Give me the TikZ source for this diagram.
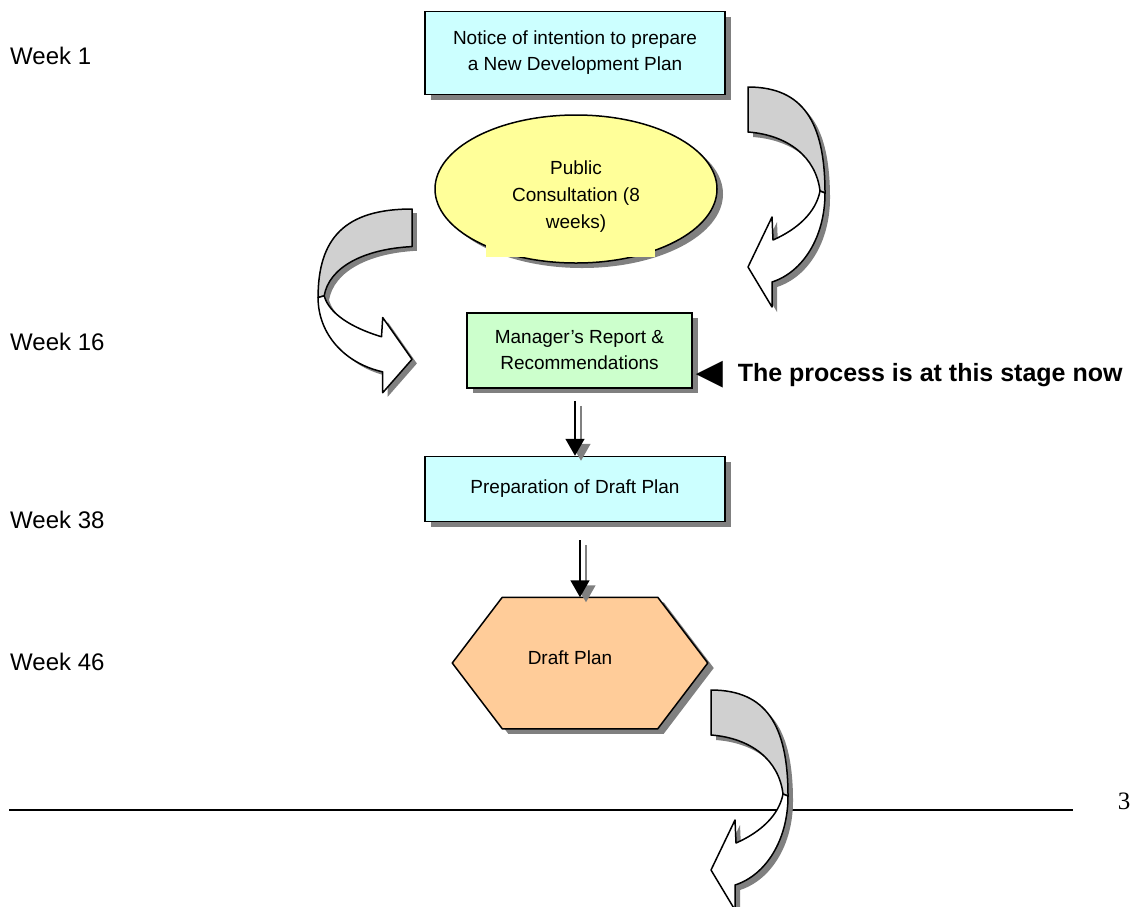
\documentclass[tikz,border=0pt]{standalone}
\usepackage{fontspec}
\setmainfont{Liberation Sans}
\newfontfamily\serifnum{Liberation Serif}
\usepackage{tikz}
\usetikzlibrary{positioning, arrows.meta, shapes.geometric, calc, shadows, backgrounds}
\definecolor{boxcyan}{RGB}{204, 255, 255}
\definecolor{boxgreen}{RGB}{204, 255, 204}
\definecolor{boxyellow}{RGB}{255, 255, 153}
\definecolor{boxpeach}{RGB}{255, 204, 153}
\definecolor{bandgray}{RGB}{208, 208, 208}
\definecolor{shadowgray}{RGB}{128, 128, 128}

\tikzset{
  stage/.style={draw=black, line width=1.5pt, font=\fontsize{19}{26}\selectfont,
                align=center, inner sep=0pt},
  castshadow/.style={drop shadow={shadow xshift=6pt, shadow yshift=-5pt,
                     fill=shadowgray, opacity=1}},
  weeklabel/.style={anchor=west, inner sep=0pt, font=\fontsize{24}{28}\selectfont},
  flowarrow/.style={-{Triangle[width=19pt, length=17pt]}, line width=1.5pt},
  bendarrow/.pic={
    % shadow of the whole band
    \fill[shadowgray, shift={(#1,5)}] (0,0) .. controls (55,0) and (77,35) .. (77,106)
      .. controls (77,150) and (55,185) .. (24,195) -- (24,220) -- (0,180) -- (24,130)
      -- (25,153) .. controls (50,142) and (68,125) .. (72,104)
      .. controls (68,70) and (40,48) .. (0,45) -- cycle;
    % grey back of the band
    \draw[fill=bandgray, line width=1.5pt, line join=round] (0,0)
      .. controls (55,0) and (77,35) .. (77,106) -- (72,104)
      .. controls (68,70) and (40,48) .. (0,45) -- cycle;
    % white front with the head
    \draw[fill=white, line width=1.5pt, line join=round] (77,106)
      .. controls (77,150) and (55,185) .. (24,195) -- (24,220) -- (0,180) -- (24,130)
      -- (25,153) .. controls (50,142) and (68,125) .. (72,104) -- cycle;
  }
}

\begin{document}
\begin{tikzpicture}[x=1pt, y=-1pt, >=Stealth]
  \useasboundingbox (0,0) rectangle (1139,906);
  % week column
  \node[weeklabel] (wk1) at (10,56) {Week 1};
  \node[weeklabel] (wk16) at (10,342) {Week 16};
  \node[weeklabel] (wk38) at (10,520) {Week 38};
  \node[weeklabel] (wk46) at (10,662) {Week 46};
  % stages
  \node[stage, fill=boxcyan, minimum width=300pt, minimum height=83pt, castshadow]
    (notice) at (575,53) {Notice of intention to prepare\\a New Development Plan};
  \node[stage, ellipse, fill=boxyellow, minimum width=282pt, minimum height=148pt, castshadow]
    (consult) at (576,189)
    {\raisebox{-11pt}[0pt][0pt]{\fontsize{19}{27}\selectfont
      \begin{tabular}{@{}c@{}}Public\\Consultation (8\\weeks)\end{tabular}}};
  \fill[boxyellow] (486,240) rectangle (655,257);
  \node[stage, fill=boxgreen, minimum width=225pt, minimum height=75pt, castshadow]
    (mgr) at (579.5,350.5) {Manager’s Report \&\\Recommendations};
  \node[stage, fill=boxcyan, minimum width=300pt, minimum height=65pt, castshadow,
        below=67pt of mgr, xshift=-4.5pt] (prep) {Preparation of Draft Plan};
  \node[stage, draw=none, minimum width=254pt, minimum height=130pt]
    (draft) at (580,663) {\raisebox{-1pt}[0pt][0pt]{Draft Plan}\hspace*{20pt}};
  \begin{scope}[on background layer]
    \draw[line width=1.5pt, fill=boxpeach, castshadow, line join=round]
      (draft.west) -- ([xshift=50pt]draft.north west) -- ([xshift=-50pt]draft.north east)
      -- (draft.east) -- ([xshift=-50pt]draft.south east) -- ([xshift=50pt]draft.south west)
      -- cycle;
  \end{scope}
  % straight arrows
  \draw[flowarrow, shadowgray, shorten <=12pt, transform canvas={shift={(6pt,-5pt)}}]
    (mgr.south -| prep.north) -- (prep.north);
  \draw[flowarrow, shorten <=12pt] (mgr.south -| prep.north) -- (prep.north);
  \draw[flowarrow, shadowgray, shorten <=18pt, transform canvas={shift={(6pt,-5pt)}}]
    (prep.south -| draft.north) -- (draft.north);
  \draw[flowarrow, shorten <=18pt] (prep.south -| draft.north) -- (draft.north);
  % current stage marker
  \node[anchor=west, inner sep=0pt, font=\fontsize{25}{30}\selectfont\bfseries]
    (status) at (687,375) {\raisebox{-6pt}{\scalebox{1.8}{◄}}\hspace{6pt}The process is at this stage now};
  % page foot
  \draw[line width=1.2pt] (9,810) -- (1073,810);
  \node[font=\serifnum\fontsize{25}{30}\selectfont, inner sep=0pt] (pagenum) at (1124,801) {3};
  % curved block arrows
  \pic at (748,87) {bendarrow=5};
  \pic[xscale=-1.22, yscale=0.835] at (412,209) {bendarrow=-4};
  \pic at (711,690) {bendarrow=5};
\end{tikzpicture}
\end{document}
